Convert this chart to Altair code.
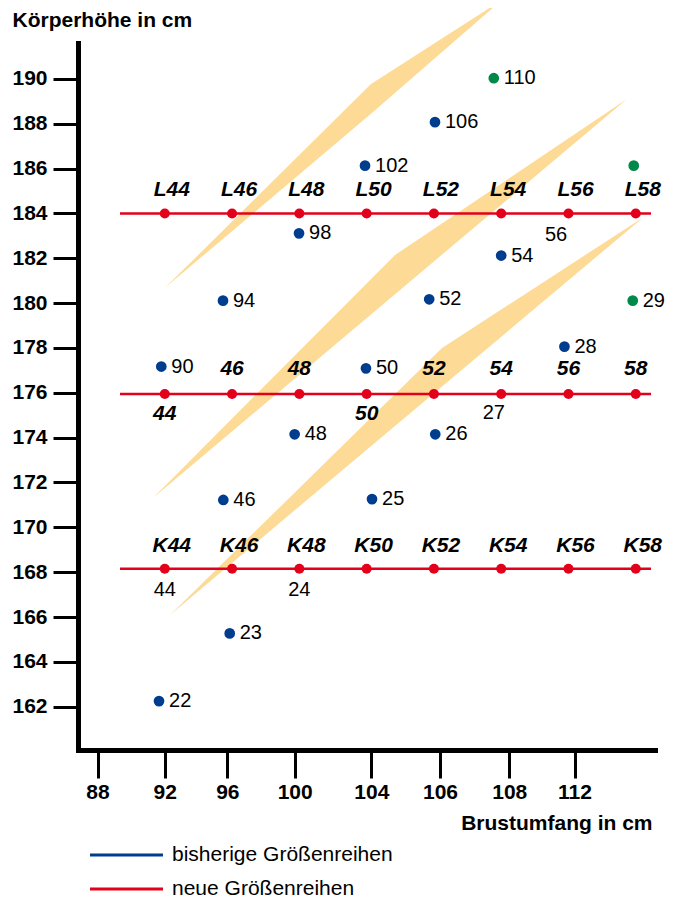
import altair as alt
import pandas as pd

FONT = "Liberation Sans"

# ---- axis -------------------------------------------------------------
# x is measured in "slots" along the drawn girth axis (tick 88 = slot 0)
x_tick_slots = [0, 1, 1.93, 2.93, 4.07, 5.09, 6.12, 7.09]
x_tick_labels = ["88", "92", "96", "100", "104", "106", "108", "112"]
y_ticks = list(range(162, 191, 2))
x_domain = [-0.29, 8.286]
y_domain = [160.07, 191.6]

# ---- new size rows (red) ---------------------------------------------
row_names = ["L", "M", "K"]
row_height = [184.0, 175.95, 168.15]
row_start = [0.334, 0.334, 0.334]
row_end = [8.227, 8.227, 8.227]
grid_slots = [1, 2, 3, 4, 5, 6, 7, 8]

L_labels = ["L44", "L46", "L48", "L50", "L52", "L54", "L56", "L58"]
K_labels = ["K44", "K46", "K48", "K50", "K52", "K54", "K56", "K58"]
M_above_slots = [2, 3, 5, 6, 7, 8]
M_above_labels = ["46", "48", "52", "54", "56", "58"]
M_below_slots = [1, 4]
M_below_labels = ["44", "50"]

# ---- previous size series (blue) -------------------------------------
old_slot = [0.914, 1.965, 1.87, 4.08, 2.93, 5.02, 0.948, 3.99, 6.94,
            1.865, 4.93, 6.0, 2.995, 3.976, 5.016]
old_height = [162.25, 165.27, 171.22, 171.26, 174.15, 174.15, 177.17, 177.09,
              178.06, 180.11, 180.17, 182.12, 183.11, 186.13, 188.07]
old_label = ["22", "23", "46", "25", "48", "26", "90", "50", "28",
             "94", "52", "54", "98", "102", "106"]

# green points
green_slot = [5.89, 7.97, 7.955]
green_height = [190.03, 186.13, 180.11]
green_label = ["110", "", "29"]

# free-standing numbers
free_slot = [6.815, 5.89, 1.0, 3.0]
free_height = [183.04, 175.09, 167.2, 167.2]
free_label = ["56", "27", "44", "24"]

# ---- orange bands (edges: upper / lower) ------------------------------
band1_slot = [1.003, 4.065, 6.012]
band1_upper = [180.68, 189.77, 193.52]
band1_lower = [180.68, 188.44, 193.52]
band2_slot = [0.825, 4.422, 7.87]
band2_upper = [171.31, 182.15, 189.10]
band2_lower = [171.31, 180.40, 189.10]
band3_slot = [1.078, 5.12, 8.12]
band3_upper = [166.09, 178.0, 183.84]
band3_lower = [166.09, 176.28, 183.84]

legend_items = ["bisherige Größenreihen", "neue Größenreihen"]

BLUE = "#003d8f"
RED = "#e2001a"
GREEN = "#00894a"
ORANGE = "#fddb96"

# ---- tables -----------------------------------------------------------
bands = pd.concat([
    pd.DataFrame({"band": b, "x": s, "y": u, "y2": l})
    for b, s, u, l in [
        ("1", band1_slot, band1_upper, band1_lower),
        ("2", band2_slot, band2_upper, band2_lower),
        ("3", band3_slot, band3_upper, band3_lower),
    ]
])
rows = pd.DataFrame({"row": row_names, "y": row_height, "x": row_start,
                     "x2": row_end, "series": "neue Größenreihen"})
grid = pd.DataFrame([{"x": s, "y": h} for h in row_height for s in grid_slots])
old = pd.DataFrame({"x": old_slot, "y": old_height, "t": old_label})
green = pd.DataFrame({"x": green_slot, "y": green_height, "t": green_label})
free = pd.DataFrame({"x": free_slot, "y": free_height, "t": free_label})
lk = pd.DataFrame({"x": grid_slots * 2,
                   "y": [row_height[0]] * 8 + [row_height[2]] * 8,
                   "t": L_labels + K_labels})
m_above = pd.DataFrame({"x": M_above_slots, "y": row_height[1], "t": M_above_labels})
m_below = pd.DataFrame({"x": M_below_slots, "y": row_height[1], "t": M_below_labels})

labels_js = "[" + ",".join(f"'{t}'" for t in x_tick_labels) + "]"
vals_js = "[" + ",".join(str(v) for v in x_tick_slots) + "]"

xs = alt.Scale(domain=x_domain, nice=False, zero=False)
ys = alt.Scale(domain=y_domain, nice=False, zero=False)

x_axis = alt.Axis(
    values=x_tick_slots,
    labelExpr=f"{labels_js}[indexof({vals_js}, datum.value)]",
    title="Brustumfang in cm", grid=False,
    domainWidth=5, domainColor="black", domainCap="square",
    tickWidth=3, tickColor="black", tickSize=28,
    labelFont=FONT, labelFontSize=21, labelFontWeight="bold", labelColor="black",
    labelPadding=3, labelFlush=False, labelOverlap=False,
    titleFont=FONT, titleFontSize=21, titleFontWeight="bold", titleColor="black",
    titleX=574, titleY=73, titleAlign="right", titleBaseline="middle", titleAnchor="end",
)
y_axis = alt.Axis(
    values=y_ticks, title="Körperhöhe in cm", grid=False,
    domainWidth=5, domainColor="black", domainCap="square",
    tickWidth=3, tickColor="black", tickSize=25,
    labelFont=FONT, labelFontSize=21, labelFontWeight="bold", labelColor="black",
    labelPadding=6, labelFlush=False, labelOverlap=False,
    titleFont=FONT, titleFontSize=21, titleFontWeight="bold", titleColor="black",
    titleAngle=0, titleX=-66, titleY=-23, titleAlign="left", titleBaseline="middle",
    titleAnchor="start",
)

band_layer = alt.Chart(bands).mark_area(color=ORANGE, opacity=1, interpolate="linear").encode(
    x=alt.X("x:Q", scale=xs, axis=x_axis),
    y=alt.Y("y:Q", scale=ys, axis=y_axis),
    y2="y2:Q",
    detail="band:N",
)

rule_layer = alt.Chart(rows).mark_rule(strokeWidth=2.5).encode(
    x=alt.X("x:Q", scale=xs),
    x2="x2:Q",
    y=alt.Y("y:Q", scale=ys),
    color=alt.Color(
        "series:N",
        scale=alt.Scale(domain=legend_items, range=[BLUE, RED]),
        legend=alt.Legend(
            title=None, orient="none", legendX=38, legendY=801.5, padding=0,
            symbolType="M-10,0H10", symbolSize=53.3, symbolStrokeWidth=3,
            labelFont=FONT, labelFontSize=21, labelColor="black", labelOffset=35,
            labelLimit=500, rowPadding=12,
        ),
    ),
)

grid_layer = alt.Chart(grid).mark_circle(size=100, color=RED, opacity=1).encode(
    x=alt.X("x:Q", scale=xs), y=alt.Y("y:Q", scale=ys))
old_layer = alt.Chart(old).mark_circle(size=115, color=BLUE, opacity=1).encode(
    x=alt.X("x:Q", scale=xs), y=alt.Y("y:Q", scale=ys))
green_layer = alt.Chart(green).mark_circle(size=115, color=GREEN, opacity=1).encode(
    x=alt.X("x:Q", scale=xs), y=alt.Y("y:Q", scale=ys))

def txt(df, **kw):
    base = dict(font=FONT, fontSize=20, color="black", baseline="middle")
    base.update(kw)
    return alt.Chart(df).mark_text(**base).encode(
        x=alt.X("x:Q", scale=xs), y=alt.Y("y:Q", scale=ys), text="t:N")

old_txt = txt(old, align="left", dx=10)
green_txt = txt(green, align="left", dx=10)
free_txt = txt(free, align="center")
lk_txt = txt(lk, align="center", dx=7, dy=-23, fontSize=21, fontWeight="bold", fontStyle="italic")
ma_txt = txt(m_above, align="center", dy=-25, fontSize=21, fontWeight="bold", fontStyle="italic")
mb_txt = txt(m_below, align="center", dy=20, fontSize=21, fontWeight="bold", fontStyle="italic")

chart = alt.layer(
    band_layer, rule_layer, grid_layer, old_layer, green_layer,
    old_txt, green_txt, free_txt, lk_txt, ma_txt, mb_txt,
).properties(
    width=577, height=707,
    autosize=alt.AutoSizeParams(type="none"),
    padding={"left": 70, "top": 35, "right": 15, "bottom": 148},
).configure(
    background="white",
    view=alt.ViewConfig(stroke=None),
)

chart.save("out.html", embed_options={"renderer": "svg", "actions": False})
